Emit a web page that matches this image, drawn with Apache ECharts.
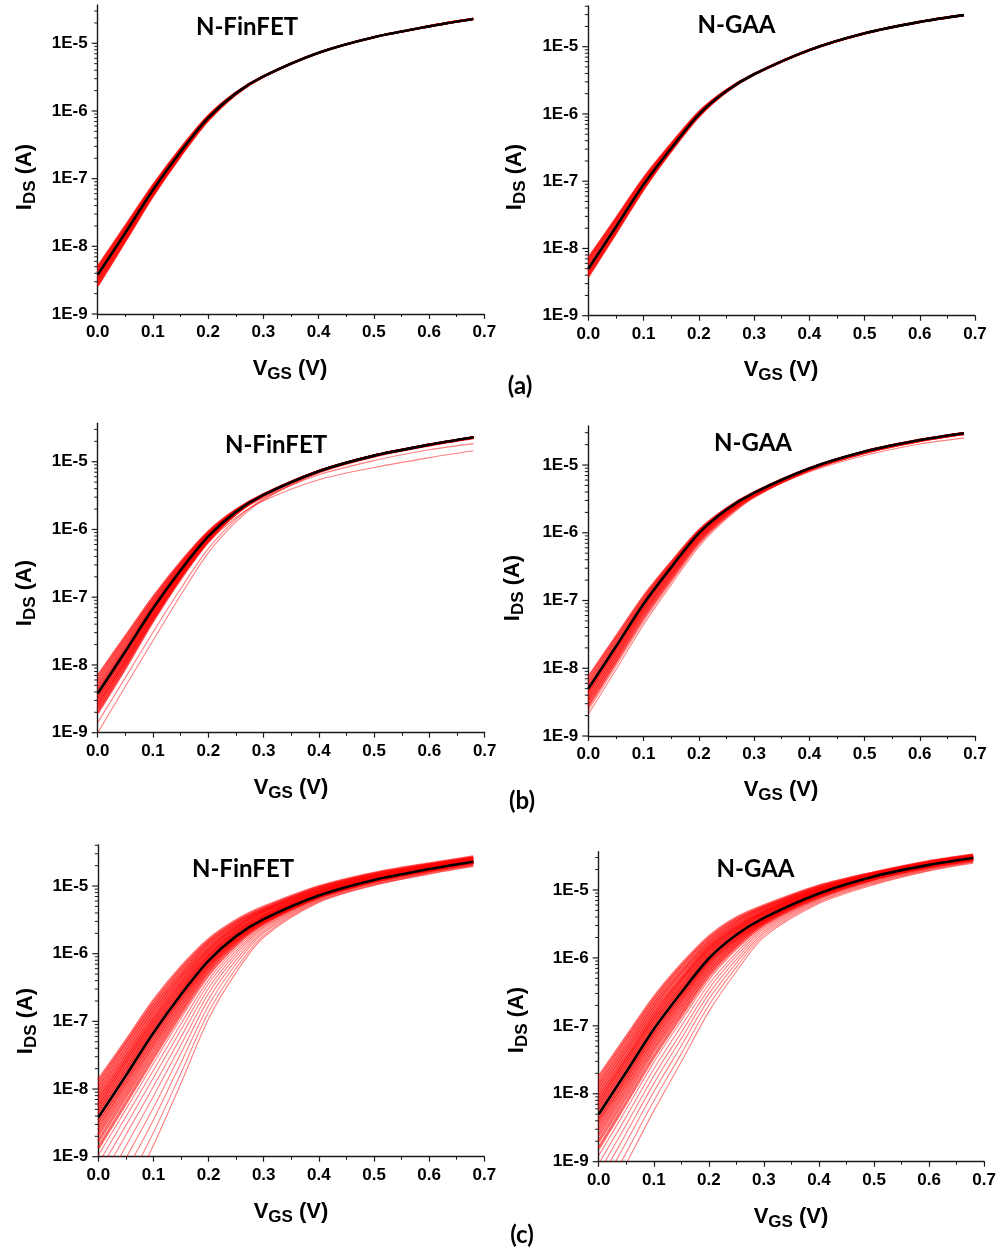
<!DOCTYPE html>
<html>
<head>
<meta charset="utf-8">
<script src="https://cdn.jsdelivr.net/npm/echarts@6/dist/echarts.min.js"></script>
<style>
  html, body { margin: 0; padding: 0; background: #ffffff; }
  #chart { width: 999px; height: 1251px; }
</style>
</head>
<body>
<div id="chart"></div>
<script>
// Gate voltage sample points (V) shared by every transfer curve
const vgs = [0, 0.05, 0.1, 0.15, 0.2, 0.25, 0.3, 0.4, 0.5, 0.6, 0.68];

// Nominal I-V curves (A)
const finfetNominal = [3.8e-9, 1.58e-8, 6.8e-8, 2.5e-7, 7.9e-7, 1.82e-6, 3.24e-6, 7.24e-6, 1.23e-5, 1.78e-5, 2.29e-5];
const gaaNominal    = [5.0e-9, 2.09e-8, 8.9e-8, 3.09e-7, 9.8e-7, 2.19e-6, 3.89e-6, 8.9e-6, 1.58e-5, 2.34e-5, 2.95e-5];

// (a) variation samples
const finfetSpreadA = [
  [5.0e-9, 2.0e-8, 8.0e-8, 2.8e-7, 8.5e-7, 1.87e-6, 3.26e-6, 7.24e-6, 1.23e-5, 1.78e-5, 2.29e-5],
  [4.6e-9, 1.85e-8, 7.6e-8, 2.7e-7, 8.3e-7, 1.85e-6, 3.25e-6, 7.24e-6, 1.23e-5, 1.78e-5, 2.29e-5],
  [4.2e-9, 1.72e-8, 7.2e-8, 2.6e-7, 8.1e-7, 1.83e-6, 3.24e-6, 7.24e-6, 1.23e-5, 1.78e-5, 2.29e-5],
  [3.5e-9, 1.49e-8, 6.4e-8, 2.4e-7, 7.7e-7, 1.8e-6, 3.23e-6, 7.24e-6, 1.23e-5, 1.78e-5, 2.29e-5],
  [3.2e-9, 1.38e-8, 6.1e-8, 2.3e-7, 7.5e-7, 1.78e-6, 3.22e-6, 7.24e-6, 1.23e-5, 1.78e-5, 2.29e-5],
  [2.9e-9, 1.28e-8, 5.8e-8, 2.2e-7, 7.4e-7, 1.77e-6, 3.21e-6, 7.24e-6, 1.23e-5, 1.78e-5, 2.29e-5],
  [2.6e-9, 1.19e-8, 5.5e-8, 2.16e-7, 7.2e-7, 1.75e-6, 3.2e-6, 7.24e-6, 1.23e-5, 1.78e-5, 2.29e-5]
];
const gaaSpreadA = [
  [7.2e-9, 2.8e-8, 1.11e-7, 3.6e-7, 1.07e-6, 2.28e-6, 3.93e-6, 8.9e-6, 1.58e-5, 2.34e-5, 2.95e-5],
  [6.4e-9, 2.6e-8, 1.04e-7, 3.4e-7, 1.04e-6, 2.25e-6, 3.91e-6, 8.9e-6, 1.58e-5, 2.34e-5, 2.95e-5],
  [5.7e-9, 2.35e-8, 9.7e-8, 3.3e-7, 1.01e-6, 2.22e-6, 3.9e-6, 8.9e-6, 1.58e-5, 2.34e-5, 2.95e-5],
  [4.6e-9, 1.95e-8, 8.4e-8, 3.0e-7, 9.6e-7, 2.17e-6, 3.88e-6, 8.9e-6, 1.58e-5, 2.34e-5, 2.95e-5],
  [4.2e-9, 1.81e-8, 8.0e-8, 2.9e-7, 9.4e-7, 2.15e-6, 3.87e-6, 8.9e-6, 1.58e-5, 2.34e-5, 2.95e-5],
  [3.8e-9, 1.68e-8, 7.5e-8, 2.8e-7, 9.1e-7, 2.13e-6, 3.86e-6, 8.9e-6, 1.58e-5, 2.34e-5, 2.95e-5]
];

// (b) variation samples: main band and isolated outliers
const finfetSpreadB = [
  [6.9e-9, 2.63e-8, 1.0e-7, 3.29e-7, 9.3e-7, 1.95e-6, 3.31e-6, 7.24e-6, 1.23e-5, 1.78e-5, 2.29e-5],
  [6.0e-9, 2.34e-8, 9.1e-8, 3.09e-7, 9.0e-7, 1.92e-6, 3.3e-6, 7.24e-6, 1.23e-5, 1.78e-5, 2.29e-5],
  [5.2e-9, 2.08e-8, 8.3e-8, 2.9e-7, 8.7e-7, 1.89e-6, 3.28e-6, 7.24e-6, 1.23e-5, 1.78e-5, 2.29e-5],
  [4.6e-9, 1.85e-8, 7.6e-8, 2.73e-7, 8.4e-7, 1.86e-6, 3.26e-6, 7.24e-6, 1.23e-5, 1.78e-5, 2.29e-5],
  [4.1e-9, 1.68e-8, 7.1e-8, 2.6e-7, 8.1e-7, 1.83e-6, 3.25e-6, 7.24e-6, 1.23e-5, 1.78e-5, 2.29e-5],
  [3.47e-9, 1.46e-8, 6.4e-8, 2.41e-7, 7.74e-7, 1.8e-6, 3.23e-6, 7.24e-6, 1.23e-5, 1.78e-5, 2.29e-5],
  [3.09e-9, 1.32e-8, 5.9e-8, 2.28e-7, 7.5e-7, 1.77e-6, 3.21e-6, 7.24e-6, 1.23e-5, 1.78e-5, 2.29e-5],
  [2.75e-9, 1.2e-8, 5.5e-8, 2.17e-7, 7.3e-7, 1.75e-6, 3.19e-6, 7.24e-6, 1.23e-5, 1.78e-5, 2.29e-5],
  [2.45e-9, 1.09e-8, 5.1e-8, 2.06e-7, 7.06e-7, 1.73e-6, 3.18e-6, 7.24e-6, 1.23e-5, 1.78e-5, 2.29e-5],
  [2.19e-9, 9.9e-9, 4.7e-8, 1.96e-7, 6.8e-7, 1.7e-6, 3.17e-6, 7.24e-6, 1.23e-5, 1.78e-5, 2.29e-5],
  [1.95e-9, 8.9e-9, 4.4e-8, 1.86e-7, 6.6e-7, 1.68e-6, 3.15e-6, 7.24e-6, 1.23e-5, 1.78e-5, 2.29e-5]
];
const finfetOutliersB = [
  [1.41e-9, 6.5e-9, 3.03e-8, 1.33e-7, 5.2e-7, 1.41e-6, 2.85e-6, 6.9e-6, 1.18e-5, 1.72e-5, 2.21e-5],
  [1.0e-9, 4.8e-9, 2.29e-8, 1.07e-7, 4.5e-7, 1.29e-6, 2.72e-6, 6.8e-6, 1.17e-5, 1.7e-5, 2.19e-5],
  [3.2e-9, 1.38e-8, 6.0e-8, 2.3e-7, 7.4e-7, 1.7e-6, 2.95e-6, 6.4e-6, 1.04e-5, 1.5e-5, 1.85e-5],
  [2.6e-9, 1.14e-8, 5.1e-8, 1.95e-7, 6.4e-7, 1.5e-6, 2.65e-6, 5.4e-6, 8.2e-6, 1.15e-5, 1.45e-5]
];
const gaaSpreadB = [
  [7.4e-9, 2.92e-8, 1.15e-7, 3.69e-7, 1.09e-6, 2.29e-6, 3.95e-6, 8.9e-6, 1.58e-5, 2.34e-5, 2.95e-5],
  [6.4e-9, 2.6e-8, 1.05e-7, 3.47e-7, 1.05e-6, 2.26e-6, 3.92e-6, 8.9e-6, 1.58e-5, 2.34e-5, 2.95e-5],
  [5.6e-9, 2.31e-8, 9.6e-8, 3.26e-7, 1.01e-6, 2.22e-6, 3.9e-6, 8.9e-6, 1.58e-5, 2.34e-5, 2.95e-5],
  [4.46e-9, 1.89e-8, 8.1e-8, 2.86e-7, 9.2e-7, 2.1e-6, 3.8e-6, 8.8e-6, 1.57e-5, 2.32e-5, 2.93e-5],
  [3.97e-9, 1.7e-8, 7.4e-8, 2.64e-7, 8.7e-7, 2.01e-6, 3.72e-6, 8.7e-6, 1.55e-5, 2.31e-5, 2.92e-5],
  [3.54e-9, 1.53e-8, 6.8e-8, 2.44e-7, 8.2e-7, 1.93e-6, 3.64e-6, 8.6e-6, 1.54e-5, 2.29e-5, 2.9e-5],
  [3.16e-9, 1.38e-8, 6.2e-8, 2.26e-7, 7.7e-7, 1.85e-6, 3.56e-6, 8.5e-6, 1.52e-5, 2.28e-5, 2.88e-5],
  [2.75e-9, 1.22e-8, 5.5e-8, 2.05e-7, 7.2e-7, 1.76e-6, 3.47e-6, 8.4e-6, 1.51e-5, 2.26e-5, 2.86e-5]
];
const gaaOutliersB = [
  [2.4e-9, 1.08e-8, 4.9e-8, 1.87e-7, 6.7e-7, 1.68e-6, 3.38e-6, 8.3e-6, 1.49e-5, 2.24e-5, 2.84e-5],
  [2.09e-9, 9.5e-9, 4.4e-8, 1.71e-7, 6.2e-7, 1.6e-6, 3.3e-6, 8.2e-6, 1.47e-5, 2.22e-5, 2.82e-5],
  [4.4e-9, 1.86e-8, 7.9e-8, 2.8e-7, 8.9e-7, 2.0e-6, 3.55e-6, 7.9e-6, 1.38e-5, 2.05e-5, 2.5e-5]
];

// (c) variation samples: dense band and low-current tail
const finfetSpreadC = [
  [1.35e-8, 5.1e-8, 2.0e-7, 6.3e-7, 1.62e-6, 3.1e-6, 4.9e-6, 9.8e-6, 1.55e-5, 2.14e-5, 2.7e-5],
  [1.15e-8, 4.5e-8, 1.74e-7, 5.6e-7, 1.48e-6, 2.9e-6, 4.6e-6, 9.5e-6, 1.51e-5, 2.09e-5, 2.63e-5],
  [1.0e-8, 3.9e-8, 1.55e-7, 5.0e-7, 1.38e-6, 2.75e-6, 4.4e-6, 9.1e-6, 1.48e-5, 2.04e-5, 2.57e-5],
  [8.7e-9, 3.4e-8, 1.38e-7, 4.6e-7, 1.26e-6, 2.57e-6, 4.3e-6, 8.9e-6, 1.41e-5, 2.0e-5, 2.57e-5],
  [7.6e-9, 3.0e-8, 1.23e-7, 4.2e-7, 1.17e-6, 2.45e-6, 4.1e-6, 8.5e-6, 1.38e-5, 2.0e-5, 2.5e-5],
  [6.8e-9, 2.7e-8, 1.1e-7, 3.8e-7, 1.1e-6, 2.34e-6, 3.9e-6, 8.3e-6, 1.38e-5, 1.95e-5, 2.45e-5],
  [6.0e-9, 2.45e-8, 1.0e-7, 3.5e-7, 1.02e-6, 2.19e-6, 3.7e-6, 8.1e-6, 1.35e-5, 1.9e-5, 2.45e-5],
  [5.4e-9, 2.2e-8, 9.1e-8, 3.2e-7, 9.5e-7, 2.1e-6, 3.6e-6, 7.9e-6, 1.32e-5, 1.86e-5, 2.4e-5],
  [4.8e-9, 1.95e-8, 8.2e-8, 2.95e-7, 9.1e-7, 2.0e-6, 3.5e-6, 7.6e-6, 1.29e-5, 1.84e-5, 2.36e-5],
  [4.3e-9, 1.77e-8, 7.5e-8, 2.73e-7, 8.5e-7, 1.91e-6, 3.36e-6, 7.4e-6, 1.26e-5, 1.81e-5, 2.33e-5],
  [3.4e-9, 1.43e-8, 6.2e-8, 2.33e-7, 7.6e-7, 1.77e-6, 3.18e-6, 7.2e-6, 1.22e-5, 1.77e-5, 2.28e-5],
  [2.95e-9, 1.26e-8, 5.5e-8, 2.14e-7, 7.1e-7, 1.7e-6, 3.13e-6, 7.1e-6, 1.22e-5, 1.76e-5, 2.27e-5],
  [2.5e-9, 1.1e-8, 4.8e-8, 1.93e-7, 6.7e-7, 1.63e-6, 3.07e-6, 7.1e-6, 1.21e-5, 1.75e-5, 2.26e-5],
  [2.1e-9, 9.2e-9, 4.2e-8, 1.71e-7, 6.2e-7, 1.56e-6, 2.99e-6, 7.0e-6, 1.2e-5, 1.74e-5, 2.24e-5],
  [1.7e-9, 7.7e-9, 3.5e-8, 1.5e-7, 5.7e-7, 1.48e-6, 2.91e-6, 6.95e-6, 1.19e-5, 1.73e-5, 2.23e-5],
  [1.35e-9, 6.2e-9, 2.9e-8, 1.29e-7, 5.1e-7, 1.39e-6, 2.82e-6, 6.9e-6, 1.18e-5, 1.71e-5, 2.21e-5]
];
const finfetTailC = [
  [1.05e-9, 5.0e-9, 2.38e-8, 1.1e-7, 4.6e-7, 1.3e-6, 2.74e-6, 6.8e-6, 1.17e-5, 1.7e-5, 2.19e-5],
  [7.9e-10, 3.9e-9, 1.9e-8, 9.2e-8, 4.1e-7, 1.21e-6, 2.64e-6, 6.7e-6, 1.16e-5, 1.68e-5, 2.17e-5],
  [5.8e-10, 2.9e-9, 1.47e-8, 7.5e-8, 3.6e-7, 1.11e-6, 2.53e-6, 6.6e-6, 1.14e-5, 1.66e-5, 2.14e-5],
  [4.0e-10, 2.1e-9, 1.09e-8, 5.9e-8, 3.08e-7, 1.01e-6, 2.42e-6, 6.5e-6, 1.12e-5, 1.64e-5, 2.12e-5],
  [2.6e-10, 1.43e-9, 7.8e-9, 4.5e-8, 2.6e-7, 9.1e-7, 2.29e-6, 6.3e-6, 1.11e-5, 1.62e-5, 2.08e-5],
  [1.7e-10, 9.5e-10, 5.3e-9, 3.4e-8, 2.13e-7, 8.1e-7, 2.15e-6, 6.2e-6, 1.09e-5, 1.59e-5, 2.05e-5],
  [1.0e-10, 6.0e-10, 3.5e-9, 2.45e-8, 1.72e-7, 7.1e-7, 2.02e-6, 6.0e-6, 1.06e-5, 1.57e-5, 2.02e-5],
  [5.8e-11, 3.6e-10, 2.27e-9, 1.72e-8, 1.37e-7, 6.1e-7, 1.87e-6, 5.9e-6, 1.04e-5, 1.53e-5, 1.98e-5],
  [3.4e-11, 2.26e-10, 1.48e-9, 1.22e-8, 1.09e-7, 5.3e-7, 1.75e-6, 5.7e-6, 1.02e-5, 1.5e-5, 1.94e-5]
];
const gaaSpreadC = [
  [1.78e-8, 6.8e-8, 2.6e-7, 7.9e-7, 2.04e-6, 3.9e-6, 5.9e-6, 1.15e-5, 1.8e-5, 2.63e-5, 3.27e-5],
  [1.51e-8, 5.9e-8, 2.29e-7, 7.1e-7, 1.86e-6, 3.6e-6, 5.6e-6, 1.12e-5, 1.78e-5, 2.57e-5, 3.24e-5],
  [1.32e-8, 5.1e-8, 2.04e-7, 6.3e-7, 1.7e-6, 3.4e-6, 5.4e-6, 1.07e-5, 1.74e-5, 2.57e-5, 3.16e-5],
  [1.15e-8, 4.5e-8, 1.82e-7, 5.8e-7, 1.58e-6, 3.16e-6, 5.1e-6, 1.05e-5, 1.74e-5, 2.5e-5, 3.16e-5],
  [1.0e-8, 4.0e-8, 1.62e-7, 5.1e-7, 1.45e-6, 3.0e-6, 4.9e-6, 1.02e-5, 1.7e-5, 2.5e-5, 3.1e-5],
  [8.9e-9, 3.5e-8, 1.45e-7, 4.8e-7, 1.38e-6, 2.8e-6, 4.7e-6, 1.0e-5, 1.68e-5, 2.45e-5, 3.1e-5],
  [7.9e-9, 3.2e-8, 1.32e-7, 4.4e-7, 1.29e-6, 2.7e-6, 4.6e-6, 9.8e-6, 1.66e-5, 2.45e-5, 3.06e-5],
  [7.1e-9, 2.9e-8, 1.2e-7, 4.0e-7, 1.2e-6, 2.57e-6, 4.4e-6, 9.5e-6, 1.64e-5, 2.42e-5, 3.03e-5],
  [6.3e-9, 2.59e-8, 1.09e-7, 3.66e-7, 1.12e-6, 2.43e-6, 4.2e-6, 9.3e-6, 1.62e-5, 2.39e-5, 3.0e-5],
  [5.6e-9, 2.33e-8, 9.8e-8, 3.37e-7, 1.04e-6, 2.31e-6, 4.05e-6, 9.1e-6, 1.6e-5, 2.37e-5, 2.98e-5],
  [4.5e-9, 1.88e-8, 8.1e-8, 2.86e-7, 9.2e-7, 2.1e-6, 3.8e-6, 8.8e-6, 1.57e-5, 2.33e-5, 2.93e-5],
  [4.0e-9, 1.7e-8, 7.4e-8, 2.64e-7, 8.7e-7, 2.01e-6, 3.72e-6, 8.7e-6, 1.56e-5, 2.31e-5, 2.92e-5],
  [3.5e-9, 1.5e-8, 6.6e-8, 2.4e-7, 8.1e-7, 1.91e-6, 3.6e-6, 8.6e-6, 1.54e-5, 2.29e-5, 2.9e-5],
  [2.95e-9, 1.3e-8, 5.8e-8, 2.16e-7, 7.4e-7, 1.81e-6, 3.5e-6, 8.5e-6, 1.52e-5, 2.27e-5, 2.87e-5],
  [2.45e-9, 1.1e-8, 5.0e-8, 1.9e-7, 6.7e-7, 1.69e-6, 3.4e-6, 8.3e-6, 1.5e-5, 2.24e-5, 2.84e-5],
  [2.0e-9, 9.1e-9, 4.3e-8, 1.65e-7, 6.1e-7, 1.57e-6, 3.27e-6, 8.1e-6, 1.47e-5, 2.22e-5, 2.82e-5],
  [1.58e-9, 7.4e-9, 3.5e-8, 1.41e-7, 5.4e-7, 1.45e-6, 3.13e-6, 7.9e-6, 1.45e-5, 2.19e-5, 2.79e-5]
];
const gaaTailC = [
  [1.23e-9, 5.9e-9, 2.9e-8, 1.19e-7, 4.7e-7, 1.32e-6, 2.98e-6, 7.7e-6, 1.42e-5, 2.15e-5, 2.75e-5],
  [9.3e-10, 4.6e-9, 2.32e-8, 9.9e-8, 4.1e-7, 1.19e-6, 2.82e-6, 7.5e-6, 1.39e-5, 2.12e-5, 2.71e-5],
  [6.9e-10, 3.5e-9, 1.83e-8, 8.0e-8, 3.5e-7, 1.07e-6, 2.67e-6, 7.3e-6, 1.35e-5, 2.08e-5, 2.67e-5],
  [5.0e-10, 2.63e-9, 1.41e-8, 6.5e-8, 2.95e-7, 9.5e-7, 2.5e-6, 7.1e-6, 1.32e-5, 2.04e-5, 2.63e-5],
  [3.5e-10, 1.93e-9, 1.07e-8, 5.1e-8, 2.47e-7, 8.4e-7, 2.35e-6, 6.8e-6, 1.28e-5, 2.0e-5, 2.58e-5],
  [2.4e-10, 1.36e-9, 7.8e-9, 3.9e-8, 2.01e-7, 7.3e-7, 2.18e-6, 6.6e-6, 1.24e-5, 1.95e-5, 2.54e-5],
  [1.58e-10, 9.3e-10, 5.6e-9, 2.95e-8, 1.62e-7, 6.3e-7, 2.02e-6, 6.3e-6, 1.2e-5, 1.91e-5, 2.48e-5]
];

// Log-axis tick positions: decades and minor ticks (2..9 within each decade)
const yMajorTicks = [1e-9, 1e-8, 1e-7, 1e-6, 1e-5];
const yMinorTicks = [
  2e-9, 3e-9, 4e-9, 5e-9, 6e-9, 7e-9, 8e-9, 9e-9,
  2e-8, 3e-8, 4e-8, 5e-8, 6e-8, 7e-8, 8e-8, 9e-8,
  2e-7, 3e-7, 4e-7, 5e-7, 6e-7, 7e-7, 8e-7, 9e-7,
  2e-6, 3e-6, 4e-6, 5e-6, 6e-6, 7e-6, 8e-6, 9e-6,
  2e-5, 3e-5, 4e-5
];

const deviceTitles = ['N-FinFET', 'N-GAA'];
const panelLetters = ['(a)', '(b)', '(c)'];

// Panel layout and drawing style
const panels = [
  { grid: { left: 97.7, top: 5, width: 386.6, height: 309 }, yMax: 3.68e-5,
    title: deviceTitles[0], titleAt: [247, 27], yNameAt: [25, 177], xNameAt: [290, 369],
    nominal: finfetNominal, band: finfetSpreadA, sparse: [], bandWidth: 2.2, bandOpacity: 0.85 },
  { grid: { left: 588.3, top: 6, width: 386.7, height: 309.7 }, yMax: 4.03e-5,
    title: deviceTitles[1], titleAt: [736.5, 25], yNameAt: [515, 177], xNameAt: [781, 370],
    nominal: gaaNominal, band: gaaSpreadA, sparse: [], bandWidth: 2.2, bandOpacity: 0.85 },
  { grid: { left: 97.7, top: 423.3, width: 387, height: 309.4 }, yMax: 3.69e-5,
    title: deviceTitles[0], titleAt: [276, 445], yNameAt: [25, 593], xNameAt: [291, 788],
    nominal: finfetNominal, band: finfetSpreadB, sparse: finfetOutliersB, bandWidth: 2.4, bandOpacity: 0.7 },
  { grid: { left: 588.3, top: 426, width: 386.7, height: 310 }, yMax: 3.77e-5,
    title: deviceTitles[1], titleAt: [753, 443], yNameAt: [513, 588], xNameAt: [781, 790],
    nominal: gaaNominal, band: gaaSpreadB, sparse: gaaOutliersB, bandWidth: 2.4, bandOpacity: 0.7 },
  { grid: { left: 98.3, top: 845, width: 386, height: 311.7 }, yMax: 4.04e-5,
    title: deviceTitles[0], titleAt: [243, 869], yNameAt: [26, 1021], xNameAt: [291, 1212],
    nominal: finfetNominal, band: finfetSpreadC, sparse: finfetTailC, bandWidth: 3, bandOpacity: 0.6 },
  { grid: { left: 598.7, top: 851.7, width: 385.6, height: 310 }, yMax: 3.66e-5,
    title: deviceTitles[1], titleAt: [755.5, 869], yNameAt: [517, 1020], xNameAt: [791, 1217],
    nominal: gaaNominal, band: gaaSpreadC, sparse: gaaTailC, bandWidth: 3, bandOpacity: 0.6 }
];
const letterAt = [[520, 386], [522, 801], [522, 1235]];

const AXIS_FONT = '"Liberation Sans", Arial, sans-serif';
const TITLE_FONT = 'Lato, "Open Sans", sans-serif';
const axisColor = '#1a1a1a';

const grids = [], xAxes = [], yAxes = [], series = [], graphics = [];

function curveSeries(i, curve, z, style) {
  return {
    type: 'line', xAxisIndex: i, yAxisIndex: i,
    data: vgs.map((v, j) => [v, curve[j]]),
    smooth: 0.3, showSymbol: false, symbol: 'none', clip: true,
    silent: true, animation: false, z: z, lineStyle: style
  };
}

panels.forEach((p, i) => {
  grids.push(Object.assign({}, p.grid));

  xAxes.push({
    gridIndex: i, type: 'value', min: 0, max: 0.7, interval: 0.1,
    axisLine: { show: true, onZero: false, lineStyle: { color: axisColor, width: 1.4 } },
    axisTick: { show: true, inside: false, length: 5, lineStyle: { color: axisColor, width: 1.2 } },
    minorTick: { show: true, splitNumber: 2, length: 3, lineStyle: { color: axisColor, width: 1 } },
    splitLine: { show: false }, minorSplitLine: { show: false },
    axisLabel: { show: true, margin: 10, color: '#000', fontFamily: AXIS_FONT, fontWeight: 'bold', fontSize: 17,
      formatter: v => v.toFixed(1), showMinLabel: true, showMaxLabel: true }
  });

  yAxes.push({
    gridIndex: i, type: 'log', logBase: 10, min: 1e-9, max: p.yMax,
    axisLine: { show: true, onZero: false, lineStyle: { color: axisColor, width: 1.4 } },
    axisTick: { show: false },
    splitLine: { show: false },
    axisLabel: { show: true, margin: 10, color: '#000', fontFamily: AXIS_FONT, fontWeight: 'bold', fontSize: 17,
      showMinLabel: true, showMaxLabel: false,
      formatter: v => '1E' + Math.round(Math.log10(v)) }
  });

  // Isolated variation curves (thin)
  p.sparse.forEach(curve => {
    series.push(curveSeries(i, curve, 1, { color: '#ff0000', width: 1.1, opacity: 0.5 }));
  });
  // Dense variation band
  p.band.forEach(curve => {
    series.push(curveSeries(i, curve, 2, { color: '#ff0000', width: p.bandWidth, opacity: p.bandOpacity }));
  });
  // Nominal curve
  series.push(curveSeries(i, p.nominal, 4, { color: '#000000', width: 2.6 }));

  // Log-axis ticks: decades (long) and minor ticks (short)
  const tickData = yMajorTicks.map(t => [0, t, 6])
    .concat(yMinorTicks.filter(t => t < p.yMax).map(t => [0, t, 3.5]));
  series.push({
    type: 'custom', xAxisIndex: i, yAxisIndex: i, silent: true, animation: false, z: 5,
    data: tickData,
    renderItem: (params, api) => {
      const pt = api.coord([api.value(0), api.value(1)]);
      const len = api.value(2);
      return { type: 'line', shape: { x1: pt[0] - len, y1: pt[1], x2: pt[0], y2: pt[1] },
        style: { stroke: axisColor, lineWidth: len > 4 ? 1.2 : 1 } };
    }
  });

  // Device title
  graphics.push({
    type: 'text', x: p.titleAt[0], y: p.titleAt[1], silent: true,
    style: { text: p.title, fill: '#000', font: 'bold 24px ' + TITLE_FONT,
      align: 'center', verticalAlign: 'middle', textAlign: 'center', textVerticalAlign: 'middle' }
  });

  // Axis titles with subscripts
  const rich = {
    m: { font: 'bold 22px ' + AXIS_FONT, fontSize: 22, fontWeight: 'bold', fontFamily: AXIS_FONT, fill: '#000', lineHeight: 30 },
    s: { font: 'bold 17px ' + AXIS_FONT, fontSize: 17, fontWeight: 'bold', fontFamily: AXIS_FONT, fill: '#000', lineHeight: 30, padding: [11, 0, 0, 0] }
  };
  graphics.push({
    type: 'text', x: p.xNameAt[0], y: p.xNameAt[1], silent: true,
    style: { text: '{m|V}{s|GS}{m| (V)}', rich: rich, font: 'bold 22px ' + AXIS_FONT,
      align: 'center', verticalAlign: 'middle', textAlign: 'center', textVerticalAlign: 'middle' }
  });
  graphics.push({
    type: 'text', x: p.yNameAt[0], y: p.yNameAt[1], rotation: Math.PI / 2, silent: true,
    style: { text: '{m|I}{s|DS}{m| (A)}', rich: rich, font: 'bold 22px ' + AXIS_FONT,
      align: 'center', verticalAlign: 'middle', textAlign: 'center', textVerticalAlign: 'middle' }
  });
});

panelLetters.forEach((t, i) => {
  graphics.push({
    type: 'text', x: letterAt[i][0], y: letterAt[i][1], silent: true,
    style: { text: t, fill: '#000', font: 'bold 24px ' + TITLE_FONT,
      align: 'center', verticalAlign: 'middle', textAlign: 'center', textVerticalAlign: 'middle' }
  });
});

const chart = echarts.init(document.getElementById('chart'), null, { renderer: 'canvas' });
chart.setOption({
  backgroundColor: '#ffffff',
  animation: false,
  grid: grids,
  xAxis: xAxes,
  yAxis: yAxes,
  series: series,
  graphic: { elements: graphics }
});
</script>
</body>
</html>
